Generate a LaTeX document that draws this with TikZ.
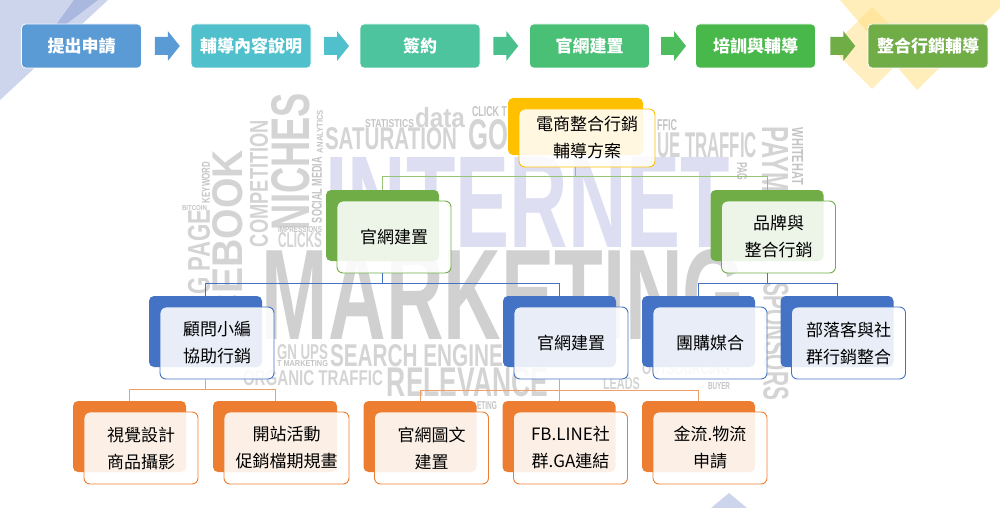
\documentclass[tikz,border=0pt]{standalone}
\usepackage{fontspec}
\usepackage{graphicx}
\setmainfont{Noto Sans CJK TC}
\newfontfamily\cloudfont{Liberation Sans}
\usetikzlibrary{calc, positioning}

% stage colours (top row)
\definecolor{S1}{RGB}{91,155,213}
\definecolor{S2}{RGB}{80,193,204}
\definecolor{S3}{RGB}{77,196,158}
\definecolor{S4}{RGB}{74,191,118}
\definecolor{S5}{RGB}{73,184,74}
\definecolor{S6}{RGB}{112,173,71}
\definecolor{A3}{RGB}{74,192,140}
\definecolor{A4}{RGB}{76,188,92}
% tree colours
\definecolor{CY}{RGB}{255,192,0}
\definecolor{CG}{RGB}{112,173,71}
\definecolor{CB}{RGB}{68,114,196}
\definecolor{CO}{RGB}{237,125,49}
\definecolor{LG}{RGB}{150,195,118}
\definecolor{LB}{RGB}{68,114,196}
\definecolor{LO}{RGB}{240,160,100}
% background
\definecolor{Wlav}{RGB}{222,222,243}
\definecolor{Wmk}{RGB}{208,208,208}
\definecolor{Wg}{RGB}{212,212,212}
\definecolor{Ws}{RGB}{196,196,196}
\definecolor{TB1}{RGB}{205,213,236}
\definecolor{TB2}{RGB}{170,184,224}
\definecolor{TY}{RGB}{255,222,130}

\tikzset{
  stagebox/.style={fill=#1, draw=white, line width=0.8pt, rounded corners=4pt,
    minimum width=120pt, minimum height=44pt, inner sep=0pt, text=white,
    font=\fontsize{17}{20}\selectfont\bfseries},
  backbox/.style={fill=#1, rounded corners=5pt, inner sep=0pt},
  frontbox/.style={draw=#1, fill=white, fill opacity=0.88, text opacity=1,
    line width=0.9pt, rounded corners=6pt, inner sep=0pt, align=center,
    font=\fontsize{17}{27}\selectfont},
  link/.style={draw=#1, line width=0.9pt},
  cloud/.style={text=#1, inner sep=0pt, font=\cloudfont\bfseries},
}

% name, back centre x, back centre y, colour, width, height, text
\newcommand\tnode[7]{%
  \node[backbox=#4, minimum width=#5pt, minimum height=#6pt] (#1b) at (#2,#3) {};
  \node[frontbox=#4, minimum width=#5pt+1pt, minimum height=#6pt+1pt]
    (#1) at ($(#1b.center)+(11.5,11.5)$) {#7};
}

\begin{document}
\begin{tikzpicture}[x=1pt, y=-1pt]
\useasboundingbox (0,0) rectangle (1000,508);

% corner triangles
\fill[TB1] (0,0) -- (108,0) -- (0,100) -- cycle;
\fill[TB2] (74,0) -- (98,0) -- (45,40) -- cycle;
\fill[TY, opacity=0.55] (840,0) -- (1000,0) -- (1000,8) -- (917,90) -- cycle;
\fill[TY, opacity=0.5] (872,7) -- (913,48) -- (872,89) -- (831,48) -- cycle;
\fill[TB1] (729,493) -- (747,508) -- (711,508) -- cycle;

% word cloud
\foreach \c/\x/\y/\w/\h/\r/\t [count=\i] in {
  Wlav/527.5/202/405/90/0/INTERNET,
  Wmk/503.5/295/483/90/0/MARKETING,
  Wg/391/139/132/22/0/SATURATION,
  Wg/440/118/50/20/0/data,
  Ws/389.5/124/49/8/0/STATISTICS,
  Wg/488/135/40/30/0/GO,
  Ws/489.5/112/35/10/0/CLICK T,
  Ws/667/125.5/20/11/0/FFIC,
  Wg/707/145.5/100/25/0/UE TRAFFIC,
  Wg/775/159.5/65/26/-90/PAYM,
  Ws/797.5/156.5/57/11/-90/WHITEHAT,
  Ws/742/171/18/10/-90/PAG,
  Wg/228/236/172/30/90/CEBOOK,
  Wg/199/252/85/22/90/G PAGE,
  Ws/206/182.5/41/8/90/KEYWORD,
  Ws/194.5/208/25/5/0/BITCOIN,
  Wg/259/183.5/127/18/90/COMPETITION,
  Wg/291/161.5/137/38/90/NICHES,
  Ws/320/131.5/43/6/90/ANALYTICS,
  Ws/317/190/66/10/90/SOCIAL MEDIA,
  Ws/300/229.5/44/6/0/IMPRESSIONS,
  Wg/300/240.5/44/15/0/CLICKS,
  Wg/416.5/356/173/22/0/SEARCH ENGINE,
  Wg/302.5/352.5/51/15/0/GN UPS,
  Ws/302.5/364/51/6/0/T MARKETING,
  Wg/313/378/140/15/0/ORGANIC TRAFFIC,
  Wg/467.5/382.5/161/29/0/RELEVANCE,
  Ws/487/406/20/8/0/ETING,
  Wg/621.5/384/37/12/0/LEADS,
  Wg/686/369/88/12/0/OUTSOURCING,
  Ws/719/386.5/22/7/0/BUYER,
  Wg/776/341/118/25/-90/SPONSORS}
  \node[cloud=\c, rotate=\r] (cw\i) at (\x,\y) {\resizebox{\w pt}{\h pt}{\t}};

% top row
\node[stagebox=S1] (apply) at (81.5,46) {提出申請};
\node[stagebox=S2] (brief) at (251,46) {輔導內容說明};
\node[stagebox=S3] (sign)  at (420,46) {簽約};
\node[stagebox=S4] (build) at (589.5,46) {官網建置};
\node[stagebox=S5] (train) at (755.5,46) {培訓與輔導};
\node[stagebox=S6] (promo) at (928,46) {整合行銷輔導};

\foreach \a/\b/\c in {apply/brief/S1, brief/sign/S2, sign/build/A3,
                      build/train/A4, train/promo/S6}
  \fill[\c] ($(\a.east)!0.5!(\b.west)+(-11.5,-9)$) -- ++(13,0) -- ++(0,-6)
    -- ++(12,15) -- ++(-12,15) -- ++(0,-6) -- ++(-13,0) -- cycle;

% tree
\tnode{root}{575.5}{126.5}{CY}{135}{57}{電商整合行銷\\輔導方案}
\tnode{web}{382.5}{225.5}{CG}{113}{71}{官網建置}
\tnode{brand}{767}{225.5}{CG}{113}{71}{品牌與\\整合行銷}
\tnode{advisor}{205.5}{331.5}{CB}{113}{71}{顧問小編\\協助行銷}
\tnode{site}{559.5}{331.5}{CB}{113}{71}{官網建置}
\tnode{group}{698.5}{331.5}{CB}{113}{71}{團購媒合}
\tnode{blogger}{837}{331.5}{CB}{113}{71}{部落客與社\\群行銷整合}
\tnode{visual}{129.5}{436.5}{CO}{113}{71}{視覺設計\\商品攝影}
\tnode{launch}{275}{436.5}{CO}{124}{71}{開站活動\\促銷檔期規畫}
\tnode{content}{420}{436.5}{CO}{113}{71}{官網圖文\\建置}
\tnode{social}{559}{436.5}{CO}{113}{71}{FB.LINE社\\群.GA連結}
\tnode{payment}{698.5}{436.5}{CO}{113}{71}{金流.物流\\申請}

% connectors
\draw[link=LG] (rootb |- root.south) -- ++(0,9) -| (webb.north);
\draw[link=LG] (rootb |- root.south) -- ++(0,9) -| (brandb.north);
\draw[link=LB] (webb |- web.south) -- ++(0,10) -| (advisorb.north);
\draw[link=LB] (webb |- web.south) -- ++(0,10) -| (siteb.north);
\draw[link=LB] (brandb |- brand.south) -- ++(0,10) -| (groupb.north);
\draw[link=LB] (brandb |- brand.south) -- ++(0,10) -| (bloggerb.north);
\draw[link=LO] (advisorb |- advisor.south) -- ++(0,10) -| (visualb.north);
\draw[link=LO] (advisorb |- advisor.south) -- ++(0,10) -| (launchb.north);
\draw[link=LO] (siteb |- site.south) -- ++(0,11) -| (contentb.north);
\draw[link=LO] (siteb |- site.south) -- ++(0,11) -| (socialb.north);
\draw[link=LO] (siteb |- site.south) -- ++(0,11) -| (paymentb.north);
\end{tikzpicture}
\end{document}
